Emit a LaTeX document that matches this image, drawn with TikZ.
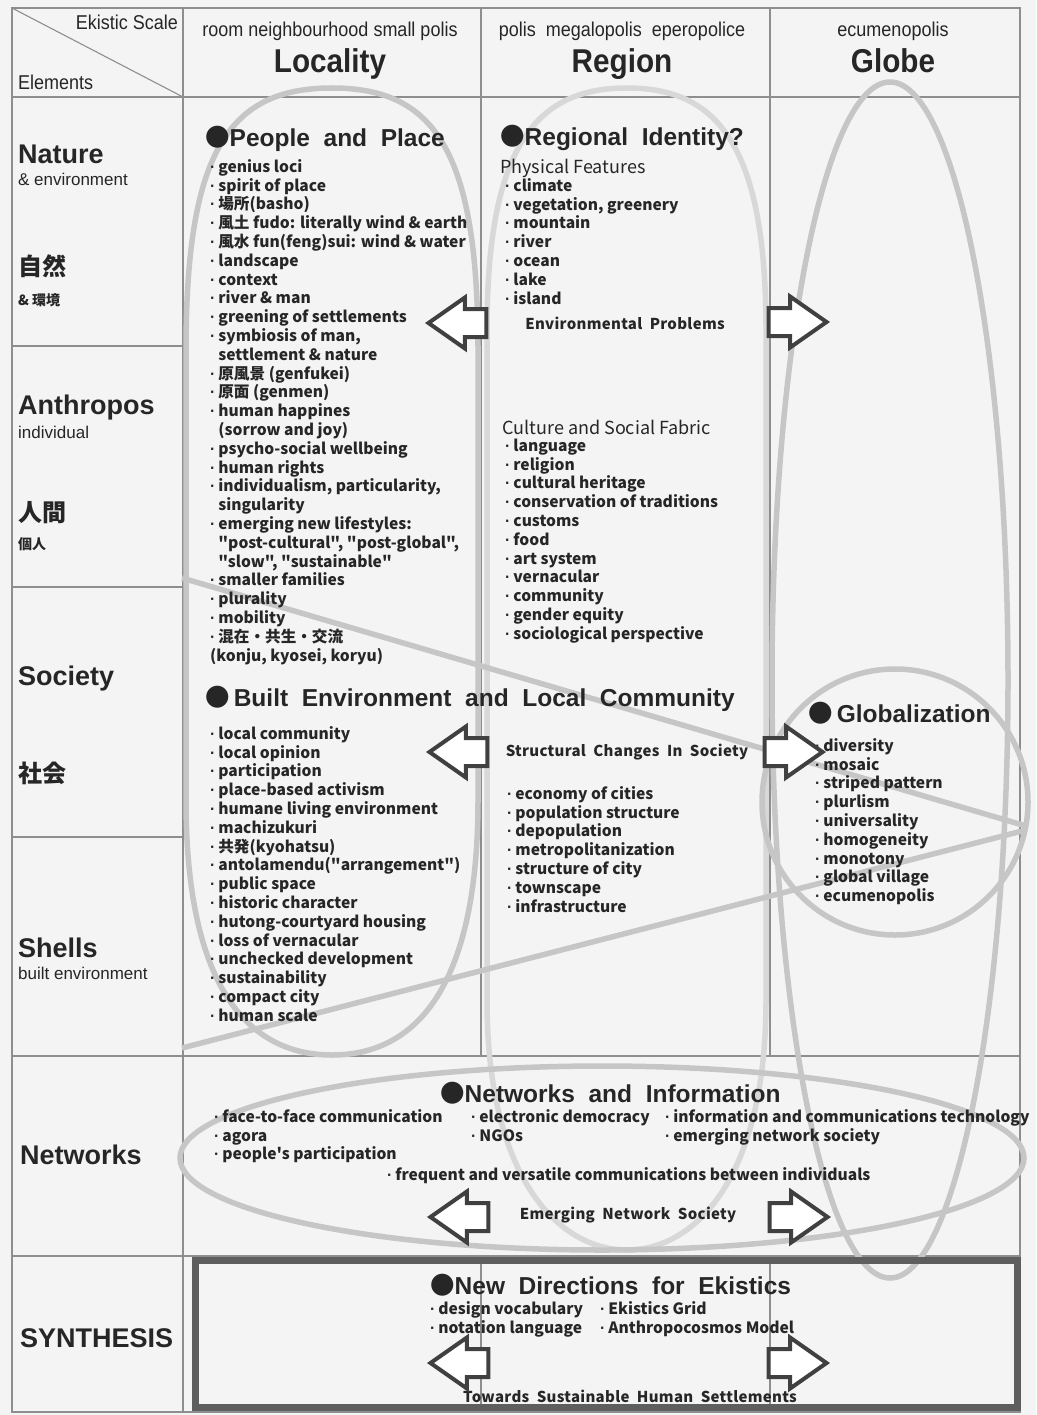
\documentclass[tikz,border=0pt]{standalone}
\usepackage{fontspec}
\setmainfont{Liberation Sans}
\newfontfamily\jpfont{Noto Sans CJK JP}
\newfontfamily\narrowfont[FakeStretch=0.9]{Liberation Sans}
\newfontfamily\spacedfont[LetterSpace=2]{Noto Sans CJK JP}
\usetikzlibrary{shapes.arrows}

\definecolor{paper}{HTML}{F4F4F4}
\definecolor{ink}{HTML}{262626}
\definecolor{rule}{HTML}{8E8E8E}
\definecolor{loopgray}{HTML}{C6C6C6}
\definecolor{looplight}{HTML}{D8D8D8}
\definecolor{arrowdark}{HTML}{404040}
\definecolor{boxgray}{HTML}{5E5E5E}

\newcommand{\bul}{{\rmfamily\bfseries ·}\hspace{3pt}}
\newcommand{\cnt}{\hphantom{\bul}}

\begin{document}
\begin{tikzpicture}[x=1pt, y=-1pt,
  gridline/.style={draw=rule, line width=1.1},
  loopline/.style={draw=loopgray, line width=5.5},
  blockarrow/.style={single arrow, draw=arrowdark, fill=white, line width=4,
    minimum height=58, inner sep=0, inner ysep=12, anchor=tip,
    single arrow head extend=11.5, single arrow tip angle=70},
  itemlist/.style={anchor=north west, inner sep=0, align=left, text=ink,
    font=\jpfont\bfseries\fontsize{15.6}{18.8}\selectfont},
  topic/.style={anchor=base west, inner sep=0, text=ink,
    font=\bfseries\fontsize{24.5}{28}\selectfont},
  arrowlabel/.style={inner sep=0, text=ink, font=\spacedfont\bfseries\fontsize{15}{18}\selectfont},
  rowname/.style={anchor=base west, inner sep=0, text=ink, font=\bfseries\fontsize{27}{30}\selectfont},
  rowsub/.style={anchor=base west, inner sep=0, text=ink, font=\fontsize{17}{20}\selectfont},
  rowjp/.style={anchor=base west, inner sep=0, text=ink, font=\jpfont\bfseries\fontsize{24}{28}\selectfont},
  rowjpsub/.style={anchor=base west, inner sep=0, text=ink, font=\jpfont\bfseries\fontsize{14}{16}\selectfont},
  scalename/.style={anchor=base, inner sep=0, text=ink, font=\narrowfont\bfseries\fontsize{33}{36}\selectfont},
  scalesub/.style={anchor=base, inner sep=0, text=ink, font=\narrowfont\fontsize{20}{24}\selectfont},
  subhead/.style={anchor=base west, inner sep=0, text=ink, font=\jpfont\fontsize{18}{20}\selectfont},
]

% paper
\fill[paper] (0,0) rectangle (1036,1415);

% table grid
\draw[gridline] (12,8) rectangle (1020,1412);
\draw[gridline] (12,8) -- (183,97);
\draw[gridline] (12,97) -- (1020,97);
\draw[gridline] (12,1056) -- (1020,1056);
\draw[gridline] (12,1256) -- (1020,1256);
\foreach \y in {346,587,837} \draw[gridline] (12,\y) -- (183,\y);
\draw[gridline] (183,8) -- (183,1412);
\foreach \x in {481,770} {
  \draw[gridline] (\x,8) -- (\x,1056);
  \draw[gridline] (\x,1256) -- (\x,1412);
}

% loops round the scales
\draw[loopline] (332,88) .. controls (230,88) and (186,150) .. (186,350) -- (186,800)
  .. controls (186,990) and (250,1055) .. (332,1055)
  .. controls (414,1055) and (478,990) .. (478,800) -- (478,350)
  .. controls (478,150) and (434,88) .. (332,88) -- cycle;
\draw[loopline, draw=looplight] (627,88) .. controls (540,88) and (487,140) .. (487,330) -- (487,1000)
  .. controls (487,1180) and (560,1250) .. (627,1250)
  .. controls (694,1250) and (766,1180) .. (766,1000) -- (766,330)
  .. controls (766,140) and (714,88) .. (627,88) -- cycle;
\draw[loopline] (890,680) ellipse [x radius=118, y radius=598];
\draw[loopline] (895,802) circle [radius=133];
\draw[loopline] (182,578) -- (1026,826);
\draw[loopline] (182,1048) -- (1026,830);
\draw[loopline] (602,1158) ellipse [x radius=422, y radius=92];

% corner and scale headings
\node[anchor=base east, inner sep=0, text=ink, font=\narrowfont\fontsize{20}{24}\selectfont] (ekScale) at (178,30) {Ekistic Scale};
\node[anchor=base west, inner sep=0, text=ink, font=\narrowfont\fontsize{20}{24}\selectfont] (elements) at (18,90) {Elements};
\node[scalesub] (locScale) at (330,37) {room neighbourhood small polis};
\node[scalename] (locality) at (330,73) {Locality};
\node[scalesub] (regScale) at (622,37) {polis\ \ megalopolis\ \ eperopolice};
\node[scalename] (region) at (622,73) {Region};
\node[scalesub] (gloScale) at (893,37) {ecumenopolis};
\node[scalename] (globe) at (893,73) {Globe};

% element names
\node[rowname] (nature) at (18,164) {Nature};
\node[rowsub] (natureSub) at (18,186) {\& environment};
\node[rowjp] (natureJp) at (18,275) {自然};
\node[rowjpsub] (natureJpSub) at (18,305) {\& 環境};
\node[rowname] (anthropos) at (18,414) {Anthropos};
\node[rowsub] (anthroposSub) at (18,438) {individual};
\node[rowjp] (anthroposJp) at (18,521) {人間};
\node[rowjpsub] (anthroposJpSub) at (18,549) {個人};
\node[rowname] (society) at (18,685) {Society};
\node[rowjp] (societyJp) at (18,782) {社会};
\node[rowname] (shells) at (18,957) {Shells};
\node[rowsub] (shellsSub) at (18,979) {built environment};
\node[rowname] (networks) at (20,1164) {Networks};
\node[rowname] (synthesis) at (20,1347) {SYNTHESIS};

% People and Place
\node[topic] (people) at (205,147) {{\jpfont ●}People\ \ and\ \ Place};
\node[itemlist] (natureList) at (210,159) {\strut\bul genius loci\\
\bul spirit of place\\
\bul 場所(basho)\\
\bul 風土 fudo: literally wind \& earth\\
\bul 風水 fun(feng)sui: wind \& water\\
\bul landscape\\
\bul context\\
\bul river \& man\\
\bul greening of settlements\\
\bul symbiosis of man,\\
\cnt settlement \& nature\\
\bul 原風景 (genfukei)\\
\bul 原面 (genmen)\\
\bul human happines\\
\cnt (sorrow and joy)\\
\bul psycho-social wellbeing\\
\bul human rights\\
\bul individualism, particularity,\\
\cnt singularity\\
\bul emerging new lifestyles:\\
\cnt "post-cultural", "post-global",\\
\cnt "slow", "sustainable"\\
\bul smaller families\\
\bul plurality\\
\bul mobility\\
\bul 混在・共生・交流\\
(konju, kyosei, koryu)};

% Regional identity
\node[topic] (regional) at (500,146) {{\jpfont ●}Regional\ \ Identity?};
\node[subhead] (physical) at (500,174) {Physical Features};
\node[itemlist] (physList) at (505,178) {\strut\bul climate\\
\bul vegetation, greenery\\
\bul mountain\\
\bul river\\
\bul ocean\\
\bul lake\\
\bul island};
\node[arrowlabel] (envProb) at (625,323) {Environmental\ \ Problems};
\node[subhead] (culture) at (502,434) {Culture and Social Fabric};
\node[itemlist] (cultList) at (505,438) {\strut\bul language\\
\bul religion\\
\bul cultural heritage\\
\bul conservation of traditions\\
\bul customs\\
\bul food\\
\bul art system\\
\bul vernacular\\
\bul community\\
\bul gender equity\\
\bul sociological perspective};

% Built environment and local community
\node[topic] (built) at (205,706) {{\jpfont ●}\,Built\ \ Environment\ \ and\ \ Local\ \ Community};
\node[itemlist] (builtList) at (210,726) {\strut\bul local community\\
\bul local opinion\\
\bul participation\\
\bul place-based activism\\
\bul humane living environment\\
\bul machizukuri\\
\bul 共発(kyohatsu)\\
\bul antolamendu("arrangement")\\
\bul public space\\
\bul historic character\\
\bul hutong-courtyard housing\\
\bul loss of vernacular\\
\bul unchecked development\\
\bul sustainability\\
\bul compact city\\
\bul human scale};
\node[arrowlabel] (structural) at (627,752) {Structural\ \ Changes\ \ In\ \ Society};
\node[itemlist] (cityList) at (507,786) {\strut\bul economy of cities\\
\bul population structure\\
\bul depopulation\\
\bul metropolitanization\\
\bul structure of city\\
\bul townscape\\
\bul infrastructure};

% Globalization
\node[topic] (globalization) at (808,722) {{\jpfont ●}\,Globalization};
\node[itemlist] (globList) at (815,738) {\strut\bul diversity\\
\bul mosaic\\
\bul striped pattern\\
\bul plurlism\\
\bul universality\\
\bul homogeneity\\
\bul monotony\\
\bul global village\\
\bul ecumenopolis};

% Networks and information
\node[topic] (netTopic) at (440,1102) {{\jpfont ●}Networks\ \ and\ \ Information};
\node[itemlist] (netLeft) at (214,1109) {\strut\bul face-to-face communication\\
\bul agora\\
\bul people's participation};
\node[itemlist] (netMid) at (471,1109) {\strut\bul electronic democracy\\
\bul NGOs};
\node[itemlist] (netRight) at (665,1109) {\strut\bul information and communications technology\\
\bul emerging network society};
\node[itemlist] (netFreq) at (387,1167) {\strut\bul frequent and versatile communications between individuals};
\node[arrowlabel] (emerging) at (628,1215) {Emerging\ \ Network\ \ Society};

% Synthesis
\draw[line width=7, draw=boxgray] (195,1260) rectangle (1017,1407);
\node[topic] (newDir) at (430,1294) {{\jpfont ●}New\ \ Directions\ \ for\ \ Ekistics};
\node[itemlist] (synLeft) at (430,1301) {\strut\bul design vocabulary\\
\bul notation language};
\node[itemlist] (synRight) at (600,1301) {\strut\bul Ekistics Grid\\
\bul Anthropocosmos Model};
\node[arrowlabel] (towards) at (630,1396) {Towards\ \ Sustainable\ \ Human\ \ Settlements};

% block arrows
\node[blockarrow, shape border rotate=180] (natureLeft) at (425,323) {};
\node[blockarrow] (natureRight) at (830,322) {};
\node[blockarrow, shape border rotate=180] (societyLeft) at (426,752) {};
\node[blockarrow] (societyRight) at (826,752) {};
\node[blockarrow, shape border rotate=180] (netLeftArrow) at (427,1217) {};
\node[blockarrow] (netRightArrow) at (831,1217) {};
\node[blockarrow, shape border rotate=180] (synLeftArrow) at (427,1363) {};
\node[blockarrow] (synRightArrow) at (830,1363) {};

\end{tikzpicture}
\end{document}
